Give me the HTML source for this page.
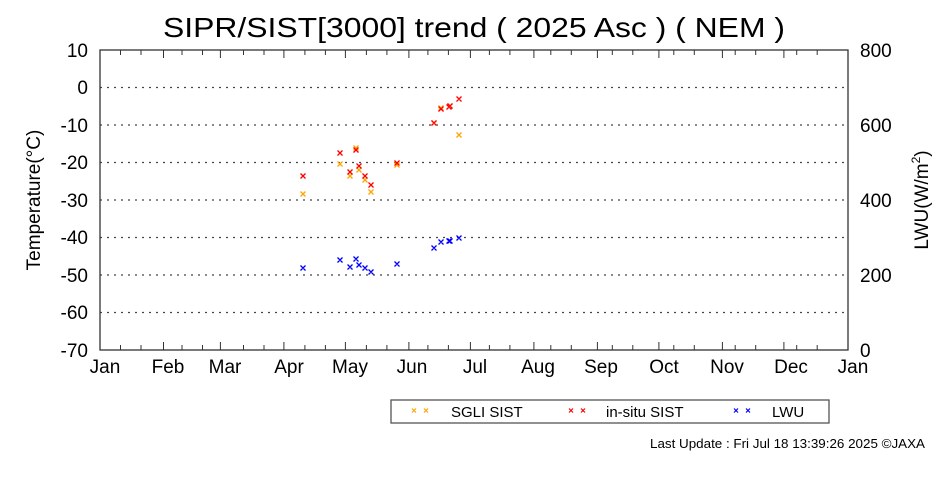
<!DOCTYPE html>
<html><head><meta charset="utf-8"><style>
html,body{margin:0;padding:0;background:#fff;}
svg{display:block;font-family:"Liberation Sans",Arial,sans-serif;}
</style></head><body>
<svg width="950" height="480" viewBox="0 0 950 480" xmlns="http://www.w3.org/2000/svg">
<text x="163" y="37" font-size="28" textLength="622" lengthAdjust="spacingAndGlyphs">SIPR/SIST[3000] trend ( 2025 Asc ) ( NEM )</text>
<g stroke="#444" stroke-width="1.2" stroke-dasharray="2,5">
<line x1="100" y1="87.5" x2="848" y2="87.5"/>
<line x1="100" y1="125" x2="848" y2="125"/>
<line x1="100" y1="162.5" x2="848" y2="162.5"/>
<line x1="100" y1="200" x2="848" y2="200"/>
<line x1="100" y1="237.5" x2="848" y2="237.5"/>
<line x1="100" y1="275" x2="848" y2="275"/>
<line x1="100" y1="312.5" x2="848" y2="312.5"/>
</g>
<rect x="100" y="50" width="748" height="300" fill="none" stroke="#333" stroke-width="1.3"/>
<path stroke="#333" stroke-width="1" fill="none" d="M120.5 50v5M120.5 350v-5M141 50v5M141 350v-5M182 50v5M182 350v-5M202.5 50v5M202.5 350v-5M243.5 50v5M243.5 350v-5M264 50v5M264 350v-5M304.9 50v5M304.9 350v-5M325.4 50v5M325.4 350v-5M366.4 50v5M366.4 350v-5M386.9 50v5M386.9 350v-5M427.9 50v5M427.9 350v-5M448.4 50v5M448.4 350v-5M489.4 50v5M489.4 350v-5M509.9 50v5M509.9 350v-5M550.8 50v5M550.8 350v-5M571.3 50v5M571.3 350v-5M612.3 50v5M612.3 350v-5M632.8 50v5M632.8 350v-5M673.8 50v5M673.8 350v-5M694.3 50v5M694.3 350v-5M735.2 50v5M735.2 350v-5M755.7 50v5M755.7 350v-5M796.7 50v5M796.7 350v-5M817.2 50v5M817.2 350v-5"/>
<path stroke="#333" stroke-width="1" fill="none" d="M163.5 50v8M163.5 350v-8M220.4 50v8M220.4 350v-8M283.9 50v8M283.9 350v-8M345.4 50v8M345.4 350v-8M408.9 50v8M408.9 350v-8M470.4 50v8M470.4 350v-8M533.9 50v8M533.9 350v-8M597.4 50v8M597.4 350v-8M658.9 50v8M658.9 350v-8M722.4 50v8M722.4 350v-8M783.9 50v8M783.9 350v-8"/>
<g font-size="19" text-anchor="end">
<text x="88" y="57">10</text><text x="88" y="94">0</text><text x="88" y="132">-10</text><text x="88" y="169">-20</text><text x="88" y="207">-30</text><text x="88" y="244">-40</text><text x="88" y="282">-50</text><text x="88" y="319">-60</text><text x="88" y="357">-70</text>
</g>
<g font-size="19" text-anchor="start">
<text x="860" y="57">800</text><text x="860" y="132">600</text><text x="860" y="207">400</text><text x="860" y="282">200</text><text x="860" y="357">0</text>
</g>
<g font-size="19" text-anchor="middle">
<text x="105" y="373">Jan</text><text x="168" y="373">Feb</text><text x="225" y="373">Mar</text><text x="289" y="373">Apr</text><text x="350" y="373">May</text><text x="412" y="373">Jun</text><text x="475" y="373">Jul</text><text x="538" y="373">Aug</text><text x="601" y="373">Sep</text><text x="664" y="373">Oct</text><text x="727" y="373">Nov</text><text x="791" y="373">Dec</text><text x="853" y="373">Jan</text>
</g>
<text font-size="19" transform="translate(40,200) rotate(-90)" text-anchor="middle">Temperature(°C)</text>
<text font-size="19" transform="translate(928,200) rotate(-90)" text-anchor="middle">LWU(W/m<tspan font-size="12" dy="-8">2</tspan><tspan dy="8">)</tspan></text>
<path stroke="orange" stroke-width="1.3" fill="none" d="M300.5 191.5l5 5m0-5l-5 5M337.5 161.5l5 5m0-5l-5 5M353.5 145.5l5 5m0-5l-5 5M347.5 173.5l5 5m0-5l-5 5M356.5 167.5l5 5m0-5l-5 5M362.5 177.5l5 5m0-5l-5 5M368.5 189.5l5 5m0-5l-5 5M394.5 162.5l5 5m0-5l-5 5M431.5 120.5l5 5m0-5l-5 5M438.5 105.5l5 5m0-5l-5 5M447.5 103.5l5 5m0-5l-5 5M456.5 132.5l5 5m0-5l-5 5"/>
<path stroke="red" stroke-width="1.3" fill="none" d="M300.5 173.5l5 5m0-5l-5 5M337.5 150.5l5 5m0-5l-5 5M353.5 147.5l5 5m0-5l-5 5M347.5 169.5l5 5m0-5l-5 5M356.5 163.5l5 5m0-5l-5 5M362.5 173.5l5 5m0-5l-5 5M368.5 182.5l5 5m0-5l-5 5M394.5 160.5l5 5m0-5l-5 5M431.5 120.5l5 5m0-5l-5 5M438.5 106.5l5 5m0-5l-5 5M447.5 103.5l5 5m0-5l-5 5M446.5 104.5l5 5m0-5l-5 5M456.5 96.5l5 5m0-5l-5 5"/>
<path stroke="blue" stroke-width="1.3" fill="none" d="M300.5 265.5l5 5m0-5l-5 5M337.5 257.5l5 5m0-5l-5 5M347.5 264.5l5 5m0-5l-5 5M353.5 256.5l5 5m0-5l-5 5M356.5 262.5l5 5m0-5l-5 5M362.5 265.5l5 5m0-5l-5 5M368.5 269.5l5 5m0-5l-5 5M394.5 261.5l5 5m0-5l-5 5M431.5 245.5l5 5m0-5l-5 5M438.5 239.5l5 5m0-5l-5 5M447.5 238.5l5 5m0-5l-5 5M446.5 238.5l5 5m0-5l-5 5M456.5 235.5l5 5m0-5l-5 5"/>
<rect x="391" y="400" width="438" height="23" fill="#fff" stroke="#555" stroke-width="1.3"/>
<path stroke="orange" stroke-width="1.2" fill="none" d="M412 408.5l4 4m0-4l-4 4M424 408.5l4 4m0-4l-4 4"/>
<path stroke="red" stroke-width="1.2" fill="none" d="M569 408.5l4 4m0-4l-4 4M581 408.5l4 4m0-4l-4 4"/>
<path stroke="blue" stroke-width="1.2" fill="none" d="M734 408.5l4 4m0-4l-4 4M746 408.5l4 4m0-4l-4 4"/>
<g font-size="15">
<text x="451" y="417">SGLI SIST</text><text x="606" y="417">in-situ SIST</text><text x="772" y="417">LWU</text>
</g>
<text x="650" y="448" font-size="12.5" textLength="275" lengthAdjust="spacingAndGlyphs">Last Update : Fri Jul 18 13:39:26 2025  ©JAXA</text>
</svg>
</body></html>
